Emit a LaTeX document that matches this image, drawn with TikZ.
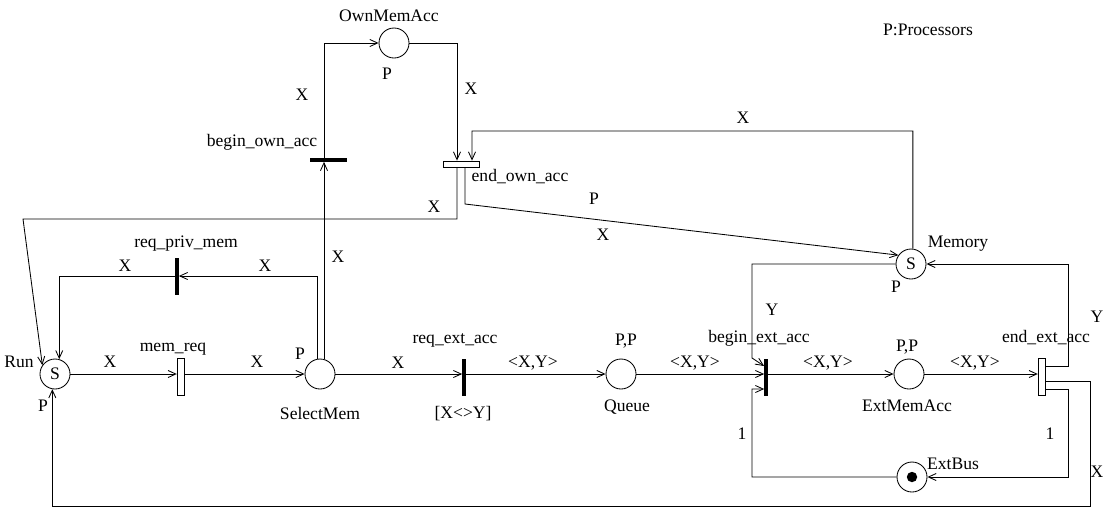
\documentclass[tikz,border=0pt]{standalone}
\usepackage{fontspec}
\setmainfont{Liberation Serif}
\usetikzlibrary{arrows.meta}
\begin{document}
\begin{tikzpicture}[x=0.025cm,y=-0.025cm,
  every node/.style={font=\rmfamily\fontsize{12.5}{14}\selectfont},
  place/.style={circle,draw,line width=0.6pt,minimum size=0.75cm,inner sep=0pt},
  vbar/.style={fill=black,inner sep=0pt,minimum width=0.08cm,minimum height=0.925cm},
  hbar/.style={fill=black,inner sep=0pt,minimum width=0.925cm,minimum height=0.08cm},
  vrect/.style={draw,line width=0.6pt,fill=white,inner sep=0pt,minimum width=0.19cm,minimum height=0.925cm},
  hrect/.style={draw,line width=0.6pt,fill=white,inner sep=0pt,minimum width=0.9cm,minimum height=0.15cm},
  lab/.style={inner sep=0pt},
  arc/.style={line width=0.6pt,-{Straight Barb[length=5.5pt,width=5pt]}}]
\useasboundingbox (0,0) rectangle (1115,508);

% places
\node[place] (Run) at (55,374) {S};
\node[place] (SelectMem) at (320,374) {};
\node[place] (OwnMemAcc) at (394,43) {};
\node[place] (Queue) at (621,374) {};
\node[place] (ExtMemAcc) at (909,374) {};
\node[place] (Memory) at (911,264) {S};
\node[place] (ExtBus) at (912,477) {};
\fill (ExtBus) circle (0.13cm);

% transitions
\node[vrect] (memreq) at (181,377) {};
\node[vbar] (reqpriv) at (177,276) {};
\node[hbar] (beginown) at (328,160) {};
\node[hrect] (endown) at (461,164) {};
\node[vbar] (reqext) at (464,377) {};
\node[vbar] (beginext) at (766,377) {};
\node[vrect] (endext) at (1042,377) {};

% arcs
\draw[arc] (Run.east) -- (memreq.west |- Run.east);
\draw[arc] (memreq.east |- SelectMem.west) -- (SelectMem.west);
\draw[arc] (SelectMem.east) -- (reqext.west |- SelectMem.east);
\draw[arc] (reqext.east |- Queue.west) -- (Queue.west);
\draw[arc] (Queue.east) -- (beginext.west |- Queue.east);
\draw[arc] (beginext.east |- ExtMemAcc.west) -- (ExtMemAcc.west);
\draw[arc] (ExtMemAcc.east) -- (endext.west |- ExtMemAcc.east);

\draw[arc] (SelectMem.101) |- (reqpriv.east);
\draw[arc] (reqpriv.west) -| (Run.74);
\draw[arc] (SelectMem.75) -- (SelectMem.75 |- beginown.south);
\draw[arc] (beginown.north -| SelectMem.75) |- (OwnMemAcc.west);
\draw[arc] (OwnMemAcc.east) -| ([xshift=-0.1cm]endown.north);
\draw[arc] (Memory.83) |- (472,131) -- ([xshift=0.275cm]endown.north);
\draw[arc] ([xshift=-0.1cm]endown.south) |- (23,219) -- (Run.145);
\draw[arc] ([xshift=0.1cm]endown.south) -- (465,204) -- (Memory.145);

\draw[arc] ([yshift=0.275cm]endext.east) -| (1068,264) -- (Memory.east);
\draw[arc] ([yshift=-0.1cm]endext.east) -| (1090,506) -| (Run.-100);
\draw[arc] ([yshift=-0.3cm]endext.east) -| (1068,477) -- (ExtBus.east);
\draw[arc] (ExtBus.west) -| (752,389) -- ([yshift=-0.3cm]beginext.west);
\draw[arc] (Memory.west) -| (752,358) -- ([yshift=0.275cm]beginext.west);

% labels
\node[lab] (lRun) at (19,362) {Run};
\node[lab] (lRunP) at (43,406) {P};
\node[lab] (l1) at (110,362) {X};
\node[lab] (lmemreq) at (173,349) {mem\_req};
\node[lab] (l2) at (257,362) {X};
\node[lab] (lSelP) at (300,354) {P};
\node[lab] (lSel) at (320,413) {SelectMem};
\node[lab] (lreqpriv) at (186,244) {req\_priv\_mem};
\node[lab] (l3) at (125,266) {X};
\node[lab] (l4) at (265,266) {X};
\node[lab] (l5) at (338,257) {X};
\node[lab] (l6) at (434,207) {X};
\node[lab] (l7) at (302,95) {X};
\node[lab] (lbeginown) at (262,142) {begin\_own\_acc};
\node[lab] (lOwn) at (389,16) {OwnMemAcc};
\node[lab] (lOwnP) at (387,74) {P};
\node[lab] (l8) at (471,89) {X};
\node[lab] (lendown) at (520,177) {end\_own\_acc};
\node[lab] (l9) at (743,118) {X};
\node[lab] (l10) at (594,199) {P};
\node[lab] (l11) at (603,235) {X};
\node[lab] (lMem) at (958,244) {Memory};
\node[lab] (lMemP) at (896,287) {P};
\node[lab] (lProc) at (928,30) {P:Processors};
\node[lab] (l12) at (398,363) {X};
\node[lab] (lreqext) at (455,340) {req\_ext\_acc};
\node[lab] (lguard) at (463,414) {[X<>Y]};
\node[lab] (l13) at (533,363) {<X,Y>};
\node[lab] (lQP) at (626,341) {P,P};
\node[lab] (lQ) at (627,407) {Queue};
\node[lab] (l14) at (695,363) {<X,Y>};
\node[lab] (lbeginext) at (759,338) {begin\_ext\_acc};
\node[lab] (l15) at (772,310) {Y};
\node[lab] (l16) at (828,363) {<X,Y>};
\node[lab] (lEP) at (907,347) {P,P};
\node[lab] (lE) at (907,406) {ExtMemAcc};
\node[lab] (l17) at (975,363) {<X,Y>};
\node[lab] (lendext) at (1046,338) {end\_ext\_acc};
\node[lab] (l18) at (1097,317) {Y};
\node[lab] (l19) at (742,434) {1};
\node[lab] (l20) at (1050,434) {1};
\node[lab] (lBus) at (953,464) {ExtBus};
\node[lab] (l21) at (1097,472) {X};
\end{tikzpicture}
\end{document}
